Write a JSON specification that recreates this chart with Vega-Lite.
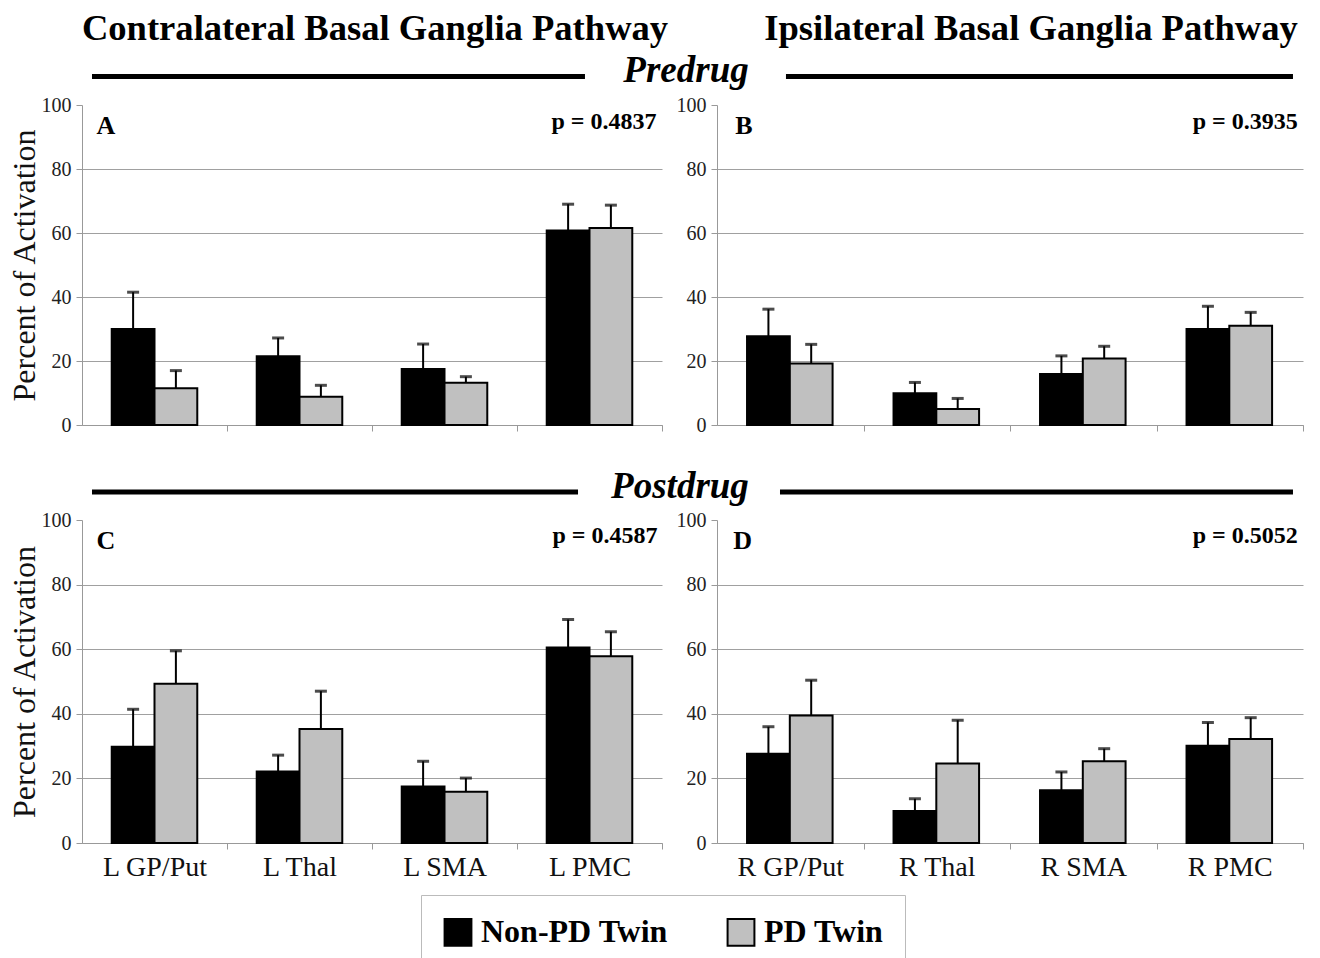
{
  "$schema": "https://vega.github.io/schema/vega-lite/v6.json",
  "background": "white",
  "padding": {"left": 7, "top": 11, "right": 0, "bottom": 0},
  "config": {
    "view": {"stroke": null},
    "font": "Liberation Serif",
    "axis": {"labelFont": "Liberation Serif", "titleFont": "Liberation Serif", "domainColor": "#999", "tickColor": "#999", "tickSize": 6, "labelColor": "#222", "titleColor": "#111"},
    "legend": {"orient": "none", "legendX": 339, "legendY": 790, "direction": "horizontal", "symbolType": "square", "symbolSize": 720,
               "symbolStrokeColor": "#000", "symbolStrokeWidth": 2, "symbolOpacity": 1, "labelFont": "Liberation Serif", "labelFontWeight": "bold", "labelFontSize": 32,
               "labelColor": "#000", "labelOffset": 7, "columnPadding": 55, "padding": 21, "strokeColor": "#bbb", "labelLimit": 400}
  },
  "datasets": {
    "headers": [
      {"id": "contra", "label": "Contralateral Basal Ganglia Pathway"},
      {"id": "ipsi", "label": "Ipsilateral Basal Ganglia Pathway"},
      {"id": "pre", "label": "Predrug"},
      {"id": "post", "label": "Postdrug"}
    ],
    "panels": [
      {"panel": "A", "letter": "A", "p": "p = 0.4837"},
      {"panel": "B", "letter": "B", "p": "p = 0.3935"},
      {"panel": "C", "letter": "C", "p": "p = 0.4587"},
      {"panel": "D", "letter": "D", "p": "p = 0.5052"}
    ],
    "bars": [
      {"panel": "A", "region": "L GP/Put", "twin": "Non-PD Twin", "value": 30.0, "upper": 41.5},
      {"panel": "A", "region": "L GP/Put", "twin": "PD Twin", "value": 11.5, "upper": 17.0},
      {"panel": "A", "region": "L Thal", "twin": "Non-PD Twin", "value": 21.5, "upper": 27.2},
      {"panel": "A", "region": "L Thal", "twin": "PD Twin", "value": 8.8, "upper": 12.4},
      {"panel": "A", "region": "L SMA", "twin": "Non-PD Twin", "value": 17.5, "upper": 25.3},
      {"panel": "A", "region": "L SMA", "twin": "PD Twin", "value": 13.2, "upper": 15.1},
      {"panel": "A", "region": "L PMC", "twin": "Non-PD Twin", "value": 60.8, "upper": 69.0},
      {"panel": "A", "region": "L PMC", "twin": "PD Twin", "value": 61.6, "upper": 68.7},
      {"panel": "B", "region": "R GP/Put", "twin": "Non-PD Twin", "value": 27.7, "upper": 36.2},
      {"panel": "B", "region": "R GP/Put", "twin": "PD Twin", "value": 19.2, "upper": 25.2},
      {"panel": "B", "region": "R Thal", "twin": "Non-PD Twin", "value": 9.9, "upper": 13.3},
      {"panel": "B", "region": "R Thal", "twin": "PD Twin", "value": 5.0, "upper": 8.3},
      {"panel": "B", "region": "R SMA", "twin": "Non-PD Twin", "value": 15.9, "upper": 21.6},
      {"panel": "B", "region": "R SMA", "twin": "PD Twin", "value": 20.8, "upper": 24.6},
      {"panel": "B", "region": "R PMC", "twin": "Non-PD Twin", "value": 30.0, "upper": 37.1},
      {"panel": "B", "region": "R PMC", "twin": "PD Twin", "value": 31.0, "upper": 35.2},
      {"panel": "C", "region": "L GP/Put", "twin": "Non-PD Twin", "value": 29.8, "upper": 41.4},
      {"panel": "C", "region": "L GP/Put", "twin": "PD Twin", "value": 49.3, "upper": 59.5},
      {"panel": "C", "region": "L Thal", "twin": "Non-PD Twin", "value": 22.1, "upper": 27.2},
      {"panel": "C", "region": "L Thal", "twin": "PD Twin", "value": 35.3, "upper": 47.0},
      {"panel": "C", "region": "L SMA", "twin": "Non-PD Twin", "value": 17.5, "upper": 25.3},
      {"panel": "C", "region": "L SMA", "twin": "PD Twin", "value": 15.9, "upper": 20.1},
      {"panel": "C", "region": "L PMC", "twin": "Non-PD Twin", "value": 60.5, "upper": 69.2},
      {"panel": "C", "region": "L PMC", "twin": "PD Twin", "value": 57.8, "upper": 65.4},
      {"panel": "D", "region": "R GP/Put", "twin": "Non-PD Twin", "value": 27.6, "upper": 36.0},
      {"panel": "D", "region": "R GP/Put", "twin": "PD Twin", "value": 39.5, "upper": 50.4},
      {"panel": "D", "region": "R Thal", "twin": "Non-PD Twin", "value": 9.9, "upper": 13.7},
      {"panel": "D", "region": "R Thal", "twin": "PD Twin", "value": 24.6, "upper": 38.0},
      {"panel": "D", "region": "R SMA", "twin": "Non-PD Twin", "value": 16.3, "upper": 22.0},
      {"panel": "D", "region": "R SMA", "twin": "PD Twin", "value": 25.3, "upper": 29.2},
      {"panel": "D", "region": "R PMC", "twin": "Non-PD Twin", "value": 30.1, "upper": 37.3},
      {"panel": "D", "region": "R PMC", "twin": "PD Twin", "value": 32.2, "upper": 38.8}
    ]
  },
  "columns": 2,
  "bounds": "flush",
  "spacing": {"row": 95, "column": 55},
  "concat": [
    {
      "width": 580, "height": 320,
      "resolve": {"scale": {"x": "independent"}},
      "layer": [
        {"layer": [
          {"data": {"name": "bars"}, "transform": [{"filter": "datum.panel === 'A'"}],
           "mark": {"type": "bar", "stroke": "#000", "strokeWidth": 2},
           "encoding": {
             "x": {"field": "region", "type": "nominal", "scale": {"domain": ["L GP/Put", "L Thal", "L SMA", "L PMC"], "paddingInner": 0.41, "paddingOuter": 0.205},
                   "axis": {"labels": false, "title": null, "tickOffset": 72.5, "grid": false}},
             "xOffset": {"field": "twin", "type": "nominal", "scale": {"domain": ["Non-PD Twin", "PD Twin"], "paddingInner": 0}},
             "y": {"field": "value", "type": "quantitative", "scale": {"domain": [0, 100]},
                   "axis": {"values": [0, 20, 40, 60, 80, 100], "title": "Percent of Activation", "titleFontSize": 32, "titleFontWeight": "normal", "titlePadding": 0,
                            "labelFontSize": 20, "labelPadding": 5, "grid": true, "gridColor": "#a0a0a0",
                            "gridOpacity": {"condition": {"test": "datum.value === 100", "value": 0}, "value": 1}}},
             "color": {"field": "twin", "type": "nominal", "scale": {"domain": ["Non-PD Twin", "PD Twin"], "range": ["#000000", "#c0c0c0"]}, "legend": {"title": null}}
           }},
          {"data": {"name": "bars"}, "transform": [{"filter": "datum.panel === 'A'"}],
           "mark": {"type": "rule", "color": "#000", "strokeWidth": 2},
           "encoding": {"x": {"field": "region", "type": "nominal"}, "xOffset": {"field": "twin", "type": "nominal"},
                        "y": {"field": "value", "type": "quantitative"}, "y2": {"field": "upper"}}},
          {"data": {"name": "bars"}, "transform": [{"filter": "datum.panel === 'A'"}],
           "mark": {"type": "tick", "color": "#000", "size": 12, "thickness": 3},
           "encoding": {"x": {"field": "region", "type": "nominal"}, "xOffset": {"field": "twin", "type": "nominal"},
                        "y": {"field": "upper", "type": "quantitative"}}},
          {"data": {"name": "panels"}, "transform": [{"filter": "datum.panel === 'A'"}],
           "mark": {"type": "text", "fontSize": 26, "fontWeight": "bold", "align": "left", "baseline": "alphabetic", "dx": -58, "color": "#000"},
           "encoding": {"x": {"datum": "L GP/Put"}, "y": {"datum": 90.8}, "text": {"field": "letter"}}},
          {"data": {"name": "panels"}, "transform": [{"filter": "datum.panel === 'A'"}],
           "mark": {"type": "text", "fontSize": 24, "fontWeight": "bold", "align": "right", "baseline": "alphabetic", "dx": 67, "color": "#000"},
           "encoding": {"x": {"datum": "L PMC"}, "y": {"datum": 92.6}, "text": {"field": "p"}}}
        ]},
        {"data": {"name": "headers"}, "transform": [{"filter": "datum.id === 'contra'"}],
         "mark": {"type": "text", "fontSize": 36.6, "fontWeight": "bold", "baseline": "alphabetic", "align": "center", "color": "#000"},
         "encoding": {"x": {"datum": 0.5052, "type": "quantitative", "scale": {"domain": [0, 1]}, "axis": null},
                      "y": {"datum": 120.31, "type": "quantitative", "scale": {"domain": [0, 100]}},
                      "text": {"field": "label"}}},
        {"data": {"name": "headers"}, "transform": [{"filter": "datum.id === 'pre'"}],
         "mark": {"type": "text", "fontSize": 37, "fontWeight": "bold", "fontStyle": "italic", "baseline": "alphabetic", "align": "center", "color": "#000"},
         "encoding": {"x": {"datum": 1.0414, "type": "quantitative", "scale": {"domain": [0, 1]}, "axis": null},
                      "y": {"datum": 107.19, "type": "quantitative", "scale": {"domain": [0, 100]}},
                      "text": {"field": "label"}}},
        {"data": {"name": "headers"}, "transform": [{"filter": "datum.id === 'pre'"}],
         "mark": {"type": "rule", "strokeWidth": 5, "color": "#000"},
         "encoding": {"x": {"datum": 0.01724, "type": "quantitative", "scale": {"domain": [0, 1]}, "axis": null},
                      "x2": {"datum": 0.8672},
                      "y": {"datum": 108.9, "type": "quantitative", "scale": {"domain": [0, 100]}}}}
      ]
    },
    {
      "width": 586, "height": 320,
      "resolve": {"scale": {"x": "independent"}},
      "layer": [
        {"layer": [
          {"data": {"name": "bars"}, "transform": [{"filter": "datum.panel === 'B'"}],
           "mark": {"type": "bar", "stroke": "#000", "strokeWidth": 2},
           "encoding": {
             "x": {"field": "region", "type": "nominal", "scale": {"domain": ["R GP/Put", "R Thal", "R SMA", "R PMC"], "paddingInner": 0.41, "paddingOuter": 0.205},
                   "axis": {"labels": false, "title": null, "tickOffset": 73.25, "grid": false}},
             "xOffset": {"field": "twin", "type": "nominal", "scale": {"domain": ["Non-PD Twin", "PD Twin"], "paddingInner": 0}},
             "y": {"field": "value", "type": "quantitative", "scale": {"domain": [0, 100]},
                   "axis": {"values": [0, 20, 40, 60, 80, 100], "title": null,
                            "labelFontSize": 20, "labelPadding": 5, "grid": true, "gridColor": "#a0a0a0",
                            "gridOpacity": {"condition": {"test": "datum.value === 100", "value": 0}, "value": 1}}},
             "color": {"field": "twin", "type": "nominal", "scale": {"domain": ["Non-PD Twin", "PD Twin"], "range": ["#000000", "#c0c0c0"]}, "legend": {"title": null}}
           }},
          {"data": {"name": "bars"}, "transform": [{"filter": "datum.panel === 'B'"}],
           "mark": {"type": "rule", "color": "#000", "strokeWidth": 2},
           "encoding": {"x": {"field": "region", "type": "nominal"}, "xOffset": {"field": "twin", "type": "nominal"},
                        "y": {"field": "value", "type": "quantitative"}, "y2": {"field": "upper"}}},
          {"data": {"name": "bars"}, "transform": [{"filter": "datum.panel === 'B'"}],
           "mark": {"type": "tick", "color": "#000", "size": 12, "thickness": 3},
           "encoding": {"x": {"field": "region", "type": "nominal"}, "xOffset": {"field": "twin", "type": "nominal"},
                        "y": {"field": "upper", "type": "quantitative"}}},
          {"data": {"name": "panels"}, "transform": [{"filter": "datum.panel === 'B'"}],
           "mark": {"type": "text", "fontSize": 26, "fontWeight": "bold", "align": "left", "baseline": "alphabetic", "dx": -55, "color": "#000"},
           "encoding": {"x": {"datum": "R GP/Put"}, "y": {"datum": 90.8}, "text": {"field": "letter"}}},
          {"data": {"name": "panels"}, "transform": [{"filter": "datum.panel === 'B'"}],
           "mark": {"type": "text", "fontSize": 24, "fontWeight": "bold", "align": "right", "baseline": "alphabetic", "dx": 68, "color": "#000"},
           "encoding": {"x": {"datum": "R PMC"}, "y": {"datum": 92.6}, "text": {"field": "p"}}}
        ]},
        {"data": {"name": "headers"}, "transform": [{"filter": "datum.id === 'ipsi'"}],
         "mark": {"type": "text", "fontSize": 36.6, "fontWeight": "bold", "baseline": "alphabetic", "align": "center", "color": "#000"},
         "encoding": {"x": {"datum": 0.5358, "type": "quantitative", "scale": {"domain": [0, 1]}, "axis": null},
                      "y": {"datum": 120.31, "type": "quantitative", "scale": {"domain": [0, 100]}},
                      "text": {"field": "label"}}},
        {"data": {"name": "headers"}, "transform": [{"filter": "datum.id === 'pre'"}],
         "mark": {"type": "rule", "strokeWidth": 5, "color": "#000"},
         "encoding": {"x": {"datum": 0.1177, "type": "quantitative", "scale": {"domain": [0, 1]}, "axis": null},
                      "x2": {"datum": 0.9829},
                      "y": {"datum": 108.9, "type": "quantitative", "scale": {"domain": [0, 100]}}}}
      ]
    },
    {
      "width": 580, "height": 323,
      "resolve": {"scale": {"x": "independent"}},
      "layer": [
        {"layer": [
          {"data": {"name": "bars"}, "transform": [{"filter": "datum.panel === 'C'"}],
           "mark": {"type": "bar", "stroke": "#000", "strokeWidth": 2},
           "encoding": {
             "x": {"field": "region", "type": "nominal", "scale": {"domain": ["L GP/Put", "L Thal", "L SMA", "L PMC"], "paddingInner": 0.41, "paddingOuter": 0.205},
                   "axis": {"labels": true, "labelAngle": 0, "labelFontSize": 28, "labelColor": "#111", "labelPadding": 4, "title": null, "tickOffset": 72.5, "labelOffset": -72.5, "grid": false}},
             "xOffset": {"field": "twin", "type": "nominal", "scale": {"domain": ["Non-PD Twin", "PD Twin"], "paddingInner": 0}},
             "y": {"field": "value", "type": "quantitative", "scale": {"domain": [0, 100]},
                   "axis": {"values": [0, 20, 40, 60, 80, 100], "title": "Percent of Activation", "titleFontSize": 32, "titleFontWeight": "normal", "titlePadding": 0,
                            "labelFontSize": 20, "labelPadding": 5, "grid": true, "gridColor": "#a0a0a0",
                            "gridOpacity": {"condition": {"test": "datum.value === 100", "value": 0}, "value": 1}}},
             "color": {"field": "twin", "type": "nominal", "scale": {"domain": ["Non-PD Twin", "PD Twin"], "range": ["#000000", "#c0c0c0"]}, "legend": {"title": null}}
           }},
          {"data": {"name": "bars"}, "transform": [{"filter": "datum.panel === 'C'"}],
           "mark": {"type": "rule", "color": "#000", "strokeWidth": 2},
           "encoding": {"x": {"field": "region", "type": "nominal"}, "xOffset": {"field": "twin", "type": "nominal"},
                        "y": {"field": "value", "type": "quantitative"}, "y2": {"field": "upper"}}},
          {"data": {"name": "bars"}, "transform": [{"filter": "datum.panel === 'C'"}],
           "mark": {"type": "tick", "color": "#000", "size": 12, "thickness": 3},
           "encoding": {"x": {"field": "region", "type": "nominal"}, "xOffset": {"field": "twin", "type": "nominal"},
                        "y": {"field": "upper", "type": "quantitative"}}},
          {"data": {"name": "panels"}, "transform": [{"filter": "datum.panel === 'C'"}],
           "mark": {"type": "text", "fontSize": 26, "fontWeight": "bold", "align": "left", "baseline": "alphabetic", "dx": -58, "color": "#000"},
           "encoding": {"x": {"datum": "L GP/Put"}, "y": {"datum": 91.1}, "text": {"field": "letter"}}},
          {"data": {"name": "panels"}, "transform": [{"filter": "datum.panel === 'C'"}],
           "mark": {"type": "text", "fontSize": 24, "fontWeight": "bold", "align": "right", "baseline": "alphabetic", "dx": 68, "color": "#000"},
           "encoding": {"x": {"datum": "L PMC"}, "y": {"datum": 92.9}, "text": {"field": "p"}}}
        ]},
        {"data": {"name": "headers"}, "transform": [{"filter": "datum.id === 'post'"}],
         "mark": {"type": "text", "fontSize": 37, "fontWeight": "bold", "fontStyle": "italic", "baseline": "alphabetic", "align": "center", "color": "#000"},
         "encoding": {"x": {"datum": 1.031, "type": "quantitative", "scale": {"domain": [0, 1]}, "axis": null},
                      "y": {"datum": 106.81, "type": "quantitative", "scale": {"domain": [0, 100]}},
                      "text": {"field": "label"}}},
        {"data": {"name": "headers"}, "transform": [{"filter": "datum.id === 'post'"}],
         "mark": {"type": "rule", "strokeWidth": 5, "color": "#000"},
         "encoding": {"x": {"datum": 0.01724, "type": "quantitative", "scale": {"domain": [0, 1]}, "axis": null},
                      "x2": {"datum": 0.8552},
                      "y": {"datum": 108.67, "type": "quantitative", "scale": {"domain": [0, 100]}}}}
      ]
    },
    {
      "width": 586, "height": 323,
      "resolve": {"scale": {"x": "independent"}},
      "layer": [
        {"layer": [
          {"data": {"name": "bars"}, "transform": [{"filter": "datum.panel === 'D'"}],
           "mark": {"type": "bar", "stroke": "#000", "strokeWidth": 2},
           "encoding": {
             "x": {"field": "region", "type": "nominal", "scale": {"domain": ["R GP/Put", "R Thal", "R SMA", "R PMC"], "paddingInner": 0.41, "paddingOuter": 0.205},
                   "axis": {"labels": true, "labelAngle": 0, "labelFontSize": 28, "labelColor": "#111", "labelPadding": 4, "title": null, "tickOffset": 73.25, "labelOffset": -73.25, "grid": false}},
             "xOffset": {"field": "twin", "type": "nominal", "scale": {"domain": ["Non-PD Twin", "PD Twin"], "paddingInner": 0}},
             "y": {"field": "value", "type": "quantitative", "scale": {"domain": [0, 100]},
                   "axis": {"values": [0, 20, 40, 60, 80, 100], "title": null,
                            "labelFontSize": 20, "labelPadding": 5, "grid": true, "gridColor": "#a0a0a0",
                            "gridOpacity": {"condition": {"test": "datum.value === 100", "value": 0}, "value": 1}}},
             "color": {"field": "twin", "type": "nominal", "scale": {"domain": ["Non-PD Twin", "PD Twin"], "range": ["#000000", "#c0c0c0"]}, "legend": {"title": null}}
           }},
          {"data": {"name": "bars"}, "transform": [{"filter": "datum.panel === 'D'"}],
           "mark": {"type": "rule", "color": "#000", "strokeWidth": 2},
           "encoding": {"x": {"field": "region", "type": "nominal"}, "xOffset": {"field": "twin", "type": "nominal"},
                        "y": {"field": "value", "type": "quantitative"}, "y2": {"field": "upper"}}},
          {"data": {"name": "bars"}, "transform": [{"filter": "datum.panel === 'D'"}],
           "mark": {"type": "tick", "color": "#000", "size": 12, "thickness": 3},
           "encoding": {"x": {"field": "region", "type": "nominal"}, "xOffset": {"field": "twin", "type": "nominal"},
                        "y": {"field": "upper", "type": "quantitative"}}},
          {"data": {"name": "panels"}, "transform": [{"filter": "datum.panel === 'D'"}],
           "mark": {"type": "text", "fontSize": 26, "fontWeight": "bold", "align": "left", "baseline": "alphabetic", "dx": -57, "color": "#000"},
           "encoding": {"x": {"datum": "R GP/Put"}, "y": {"datum": 91.1}, "text": {"field": "letter"}}},
          {"data": {"name": "panels"}, "transform": [{"filter": "datum.panel === 'D'"}],
           "mark": {"type": "text", "fontSize": 24, "fontWeight": "bold", "align": "right", "baseline": "alphabetic", "dx": 68, "color": "#000"},
           "encoding": {"x": {"datum": "R PMC"}, "y": {"datum": 92.9}, "text": {"field": "p"}}}
        ]},
        {"data": {"name": "headers"}, "transform": [{"filter": "datum.id === 'post'"}],
         "mark": {"type": "rule", "strokeWidth": 5, "color": "#000"},
         "encoding": {"x": {"datum": 0.1075, "type": "quantitative", "scale": {"domain": [0, 1]}, "axis": null},
                      "x2": {"datum": 0.9829},
                      "y": {"datum": 108.67, "type": "quantitative", "scale": {"domain": [0, 100]}}}}
      ]
    }
  ]
}
